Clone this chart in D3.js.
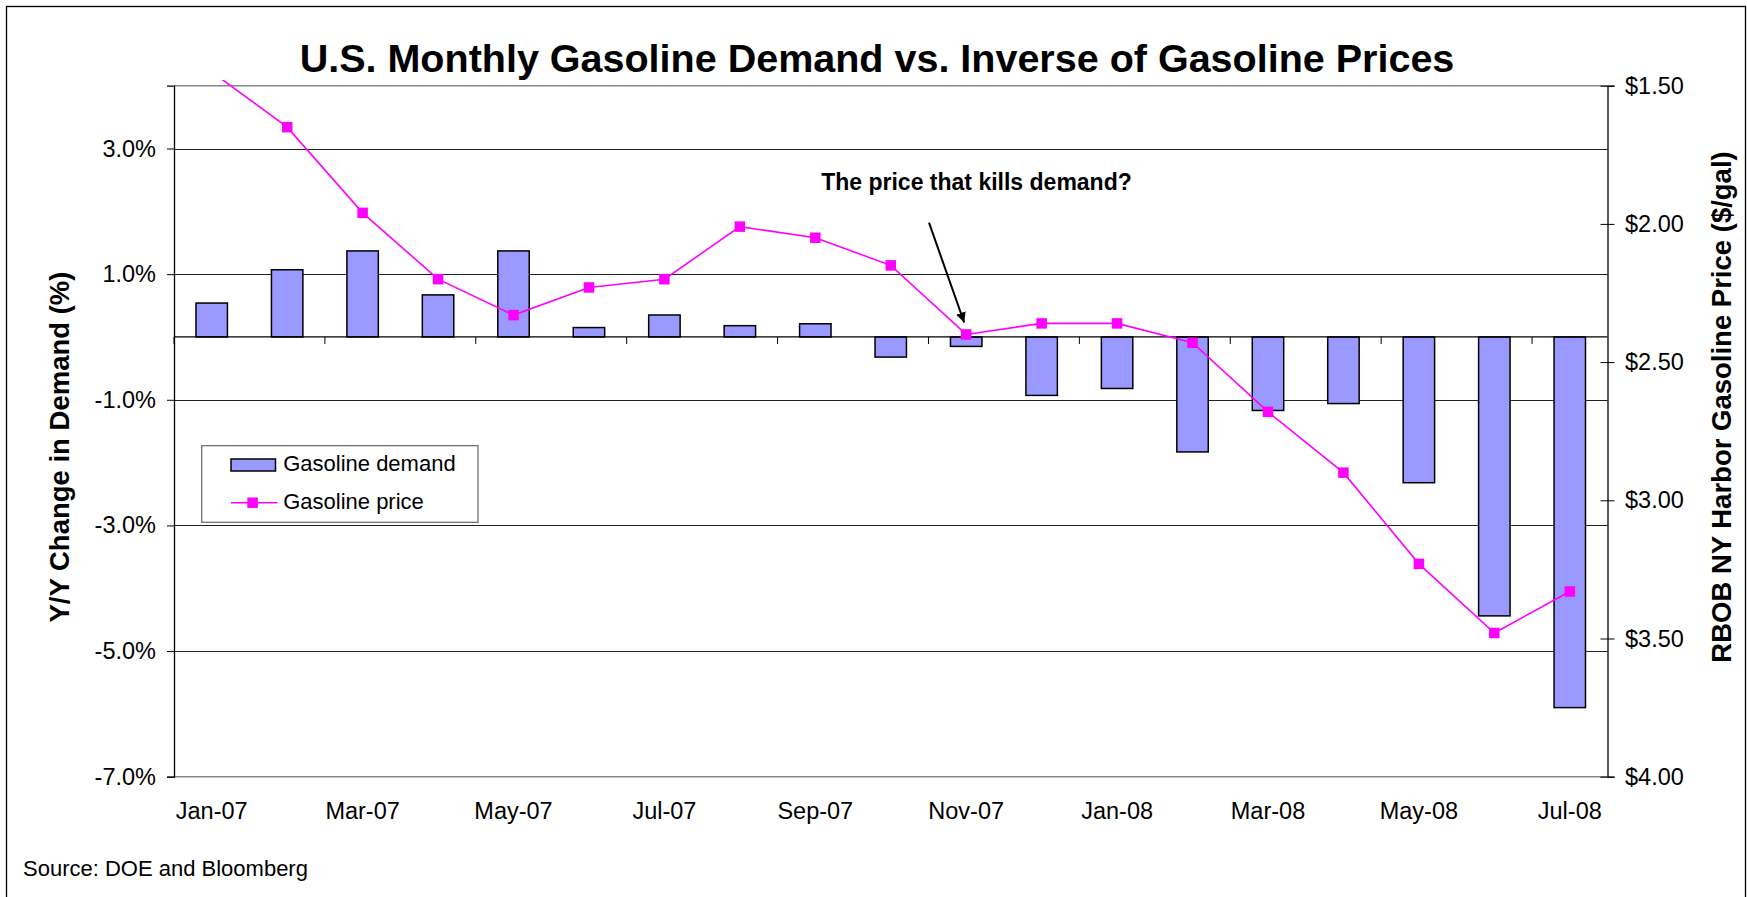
<!DOCTYPE html>
<html>
<head>
<meta charset="utf-8">
<script src="https://cdn.jsdelivr.net/npm/d3@7"></script>
<style>
  html, body { margin: 0; padding: 0; background: #fff; }
  svg { display: block; }
  text { font-family: "Liberation Sans", Arial, sans-serif; fill: #000; }
</style>
</head>
<body>
<svg id="chart" width="1747" height="897"></svg>
<script>
// ---- data ----
const months = ["Jan-07","Feb-07","Mar-07","Apr-07","May-07","Jun-07","Jul-07","Aug-07","Sep-07","Oct-07","Nov-07","Dec-07",
                "Jan-08","Feb-08","Mar-08","Apr-08","May-08","Jun-08","Jul-08"];
const demandYoY = [0.54, 1.07, 1.37, 0.67, 1.37, 0.15, 0.35, 0.18, 0.21, -0.32, -0.15, -0.93,
                   -0.82, -1.83, -1.17, -1.06, -2.32, -4.44, -5.90];
const gasPrice = [1.45, 1.65, 1.96, 2.20, 2.33, 2.23, 2.20, 2.01, 2.05, 2.15, 2.40, 2.36,
                  2.36, 2.43, 2.68, 2.90, 3.23, 3.48, 3.33];
const leftTicks = [-7, -5, -3, -1, 1, 3];
const rightTicks = [1.5, 2.0, 2.5, 3.0, 3.5, 4.0];
const xLabelMonths = months.filter((d, i) => i % 2 === 0);
const titleText = "U.S. Monthly Gasoline Demand vs. Inverse of Gasoline Prices";
const leftTitle = "Y/Y Change in Demand (%)";
const rightTitle = "RBOB NY Harbor Gasoline Price ($/gal)";
const annotation = "The price that kills demand?";
const sourceText = "Source: DOE and Bloomberg";
const seriesNames = ["Gasoline demand", "Gasoline price"];

// ---- layout ----
const P = { left: 174, right: 1607.5, top: 85.7, bottom: 776.7 };
const svg = d3.select("#chart");

// outer chart border
svg.append("rect").attr("x", 6.5).attr("y", 6.5).attr("width", 1739).attr("height", 900)
  .attr("fill", "#fff").attr("stroke", "#000").attr("stroke-width", 1.3);

// scales
const x = d3.scaleBand().domain(months).range([P.left, P.right])
  .paddingInner(1.4 / 2.4).paddingOuter(0.7 / 2.4);
const yL = d3.scaleLinear().domain([-7, 4]).range([P.bottom, P.top]);
const yR = d3.scaleLinear().domain([1.5, 4.0]).range([P.top, P.bottom]);
const step = x.step();
const boundary = i => P.left + i * step;

// gridlines
svg.append("g").selectAll("line").data(leftTicks.filter(d => d !== -7)).join("line")
  .attr("x1", P.left).attr("x2", P.right)
  .attr("y1", d => Math.round(yL(d)) + 0.5).attr("y2", d => Math.round(yL(d)) + 0.5)
  .attr("stroke", "#222").attr("stroke-width", 1);

// plot area top/bottom borders (gray)
svg.append("line").attr("x1", P.left).attr("x2", P.right).attr("y1", P.top).attr("y2", P.top)
  .attr("stroke", "#888").attr("stroke-width", 1.6);
svg.append("line").attr("x1", P.left).attr("x2", P.right).attr("y1", P.bottom).attr("y2", P.bottom)
  .attr("stroke", "#888").attr("stroke-width", 1.6);

// bars
svg.append("g").selectAll("rect").data(months).join("rect")
  .attr("x", d => x(d))
  .attr("width", x.bandwidth())
  .attr("y", (d, i) => yL(Math.max(0, demandYoY[i])))
  .attr("height", (d, i) => Math.abs(yL(demandYoY[i]) - yL(0)))
  .attr("fill", "#9999FF").attr("stroke", "#000").attr("stroke-width", 1.5);

// zero (category) axis line and its tick marks
const y0 = yL(0);
svg.append("line").attr("x1", P.left).attr("x2", P.right).attr("y1", y0).attr("y2", y0)
  .attr("stroke", "#000").attr("stroke-width", 1.3);
svg.append("g").selectAll("line").data(d3.range(0, 20, 2)).join("line")
  .attr("x1", d => boundary(d)).attr("x2", d => boundary(d))
  .attr("y1", y0).attr("y2", y0 + 7)
  .attr("stroke", "#000").attr("stroke-width", 1);

// left axis
const gL = svg.append("g").attr("transform", `translate(${P.left},0)`)
  .call(d3.axisLeft(yL).tickValues(leftTicks).tickSize(7).tickPadding(11)
    .tickFormat(d => d.toFixed(1) + "%"));
gL.select(".domain").attr("stroke", "#000").attr("stroke-width", 1.3);
gL.selectAll(".tick line").attr("stroke", "#000");
gL.selectAll(".tick text").attr("font-size", 23.5).attr("font-family", "Liberation Sans, Arial, sans-serif");

// right axis
const gR = svg.append("g").attr("transform", `translate(${P.right},0)`)
  .call(d3.axisRight(yR).tickValues(rightTicks).tickSize(7).tickPadding(10.5)
    .tickFormat(d => "$" + d.toFixed(2)));
gR.select(".domain").attr("stroke", "#000").attr("stroke-width", 1.3);
gR.selectAll(".tick line").attr("x1", -7).attr("stroke", "#000");
gR.selectAll(".tick text").attr("font-size", 23.5).attr("font-family", "Liberation Sans, Arial, sans-serif");

// bottom labels
const gB = svg.append("g").attr("transform", `translate(0,${P.bottom})`)
  .call(d3.axisBottom(x).tickValues(xLabelMonths).tickSize(0).tickPadding(25.3));
gB.select(".domain").remove();
gB.selectAll(".tick text").attr("font-size", 23.5).attr("font-family", "Liberation Sans, Arial, sans-serif");

// price line (clipped slightly above plot top, like the original)
svg.append("clipPath").attr("id", "clip").append("rect")
  .attr("x", P.left).attr("y", 80).attr("width", P.right - P.left).attr("height", P.bottom - 80);
const cx = d => x(d) + x.bandwidth() / 2;
const lineGen = d3.line().x((d, i) => cx(months[i])).y(d => yR(d));
const gLine = svg.append("g").attr("clip-path", "url(#clip)");
gLine.append("path").datum(gasPrice).attr("d", lineGen)
  .attr("fill", "none").attr("stroke", "#FF00FF").attr("stroke-width", 1.6);
const ms = 10.5;
gLine.selectAll("rect.mk").data(gasPrice).join("rect").attr("class", "mk")
  .attr("x", (d, i) => cx(months[i]) - ms / 2).attr("y", d => yR(d) - ms / 2)
  .attr("width", ms).attr("height", ms).attr("fill", "#FF00FF");

// title
svg.append("text").attr("x", 877).attr("y", 71.5).attr("text-anchor", "middle")
  .attr("font-size", 39.5).attr("font-weight", "bold").text(titleText);

// axis titles
svg.append("text").attr("transform", `translate(69,447) rotate(-90)`).attr("text-anchor", "middle")
  .attr("font-size", 27.5).attr("font-weight", "bold").text(leftTitle);
svg.append("text").attr("transform", `translate(1730.5,407) rotate(-90)`).attr("text-anchor", "middle")
  .attr("font-size", 27.5).attr("font-weight", "bold").text(rightTitle);

// annotation + arrow
svg.append("defs").append("marker").attr("id", "arrow")
  .attr("viewBox", "0 0 10 10").attr("refX", 10).attr("refY", 5)
  .attr("markerWidth", 5).attr("markerHeight", 5).attr("markerUnits", "strokeWidth")
  .attr("orient", "auto")
  .append("path").attr("d", "M0,0 L10,5 L0,10 z").attr("fill", "#000");
svg.append("text").attr("x", 976.5).attr("y", 190).attr("text-anchor", "middle")
  .attr("font-size", 23).attr("font-weight", "bold").text(annotation);
const nov = months.indexOf("Nov-07");
svg.append("line").attr("x1", 929).attr("y1", 222.7)
  .attr("x2", cx(months[nov]) - 2).attr("y2", yR(gasPrice[nov]) - 12)
  .attr("stroke", "#000").attr("stroke-width", 2).attr("marker-end", "url(#arrow)");

// legend
const lg = svg.append("g");
lg.append("rect").attr("x", 201.7).attr("y", 445.7).attr("width", 276.3).attr("height", 76.6)
  .attr("fill", "#fff").attr("stroke", "#666").attr("stroke-width", 1.2);
lg.append("rect").attr("x", 231).attr("y", 459).attr("width", 44.5).attr("height", 12)
  .attr("fill", "#9999FF").attr("stroke", "#000").attr("stroke-width", 1.5);
lg.append("text").attr("x", 283.2).attr("y", 470.5).attr("font-size", 22).text(seriesNames[0]);
lg.append("line").attr("x1", 231).attr("x2", 277.5).attr("y1", 502.7).attr("y2", 502.7)
  .attr("stroke", "#FF00FF").attr("stroke-width", 1.6);
lg.append("rect").attr("x", 252.6 - ms / 2).attr("y", 502.7 - ms / 2).attr("width", ms).attr("height", ms)
  .attr("fill", "#FF00FF");
lg.append("text").attr("x", 283.2).attr("y", 508.5).attr("font-size", 22).text(seriesNames[1]);

// source
svg.append("text").attr("x", 23).attr("y", 876).attr("font-size", 22).text(sourceText);
</script>
</body>
</html>
